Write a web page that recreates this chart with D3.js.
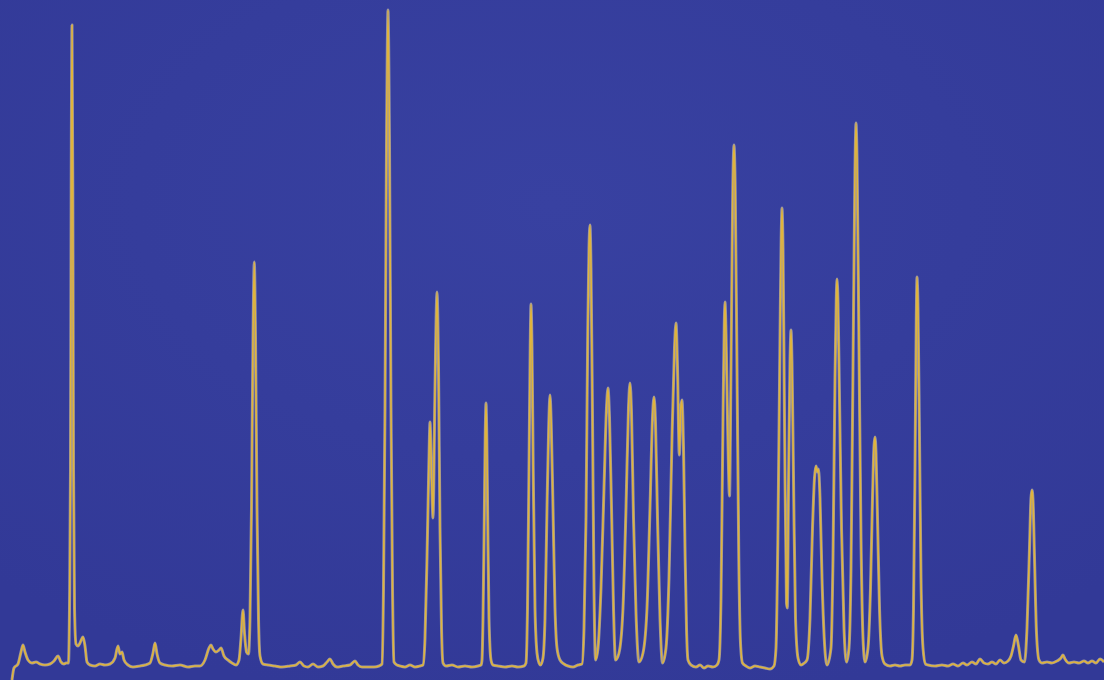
<!DOCTYPE html>
<html>
<head>
<meta charset="utf-8">
<script src="https://cdn.jsdelivr.net/npm/d3@7"></script>
<style>
  html, body { margin: 0; padding: 0; background: #343b9b; overflow: hidden; }
  svg { display: block; }
</style>
</head>
<body>
<svg id="chart" width="1104" height="680"></svg>
<script>
// Chromatogram trace: retention time (s) and detector response (mAU)
const time = [
  12, 14, 18, 21, 23, 25, 28, 32, 36, 40, 45, 50, 54, 58, 61, 64, 66,
  68.5, 69.5, 70.5, 71.2, 72, 72.8, 73.5, 74.5, 76, 78, 80, 83, 85, 87,
  90, 95, 100, 105, 110, 115, 118, 120, 122, 124, 128, 133, 140, 145, 150, 153, 155, 157, 160,
  165, 172, 180, 188, 195, 200, 205, 209, 211, 213, 216, 219, 221, 224, 228, 232, 236,
  239, 241, 243, 244.5, 246.5,
  248.5, 250, 251.5, 253, 254.3, 255.5, 257, 258.5, 260,
  263, 268, 275, 282, 290, 296, 300, 304, 308, 313, 318, 323, 327, 330, 333, 337, 343, 350, 355, 358, 362, 368, 374, 379,
  382, 383.5, 385, 386.5, 388, 389.5, 391, 392.5, 394,
  397, 400, 405, 410, 415, 420,
  423, 425, 427, 428.8, 430, 431.5, 433, 435, 437, 438.5, 440, 441.5, 443,
  446, 452, 458, 465, 472, 478, 481,
  482, 483, 484.3, 485.2, 486, 486.8, 487.7, 489, 491,
  493, 498, 505, 512, 518, 524,
  526, 527.5, 529, 530.2, 531, 532, 533.2, 535, 537, 539, 540.5,
  543, 545, 547, 548.8, 550, 551.2, 553, 555, 557, 560, 564, 568, 573, 578, 582,
  584, 586, 587.8, 589, 590, 591, 592.5, 594, 595.5,
  598, 601, 604, 606.5, 608, 609.5, 611.5, 613.5, 615.5,
  619, 623, 626, 628.5, 630, 631.5, 633.5, 636, 639,
  643, 647, 650, 652.5, 654, 655.5, 657.5, 660, 662.5,
  666, 669, 672, 674.5, 676, 677.5, 679.3, 680.8, 682, 683.5, 685, 686.5, 688,
  691, 696, 700, 704, 708, 713, 717,
  719, 721, 723, 724.3, 725, 726, 727.7, 729.5, 731, 732.8, 734, 735.2, 737, 738.8, 740.5, 742.5,
  746, 750, 755, 760, 765, 770, 774,
  776, 778, 780, 781.2, 782, 783, 784.5, 786.5, 787.3, 788.5, 790, 791, 792, 793.5, 795.5, 798, 801, 803,
  807, 810, 812.5, 814.5, 816, 817.3, 818.5, 820, 822, 824.5, 827,
  831, 833, 835, 836.3, 837, 838, 839.5, 841.5, 844, 846.5,
  849, 851, 853, 855, 856, 857, 859, 861, 863, 865,
  868, 870.5, 872.5, 874, 875, 876, 877.5, 879.5, 882, 885,
  890, 895, 900, 905, 910,
  912, 913.5, 915, 916.3, 917, 918, 919.5, 921, 923, 925.5,
  928, 935, 942, 948, 953, 958, 963, 967, 972, 976, 980, 984, 988, 992, 996, 1000, 1004, 1008, 1011,
  1013.5, 1016, 1018.5, 1021,
  1024.5, 1027, 1029.5, 1031, 1032, 1033, 1034.5, 1036.5, 1039,
  1042, 1047, 1052, 1057, 1061, 1063, 1065, 1069, 1074, 1079, 1084, 1088, 1092, 1096, 1100, 1104
];

const signal = [
  -12, 0, 4, 16, 23, 16, 8, 5, 6, 4, 3, 4, 7, 12, 6, 4, 5,
  5, 60, 200, 480, 643, 480, 200, 60, 24, 22, 25, 31, 22, 6,
  3, 2, 4, 3, 4, 10, 22, 14, 16, 8, 3, 1, 2, 3, 5, 15, 25, 14, 5,
  3, 2, 3, 1, 2, 2, 8, 20, 23, 19, 16, 18, 20, 12, 8, 5, 3,
  8, 30, 58, 35, 16,
  14, 50, 160, 330, 406, 330, 160, 50, 12,
  4, 3, 2, 1, 2, 3, 6, 2, 1, 4, 1, 2, 6, 9, 4, 1, 2, 3, 7, 3, 1, 1, 1, 2,
  4, 80, 260, 520, 658, 520, 260, 80, 6,
  3, 2, 1, 3, 1, 2,
  3, 30, 110, 200, 246, 195, 150, 280, 376, 300, 140, 40, 5,
  2, 3, 1, 2, 1, 2, 3,
  8, 50, 150, 230, 265, 230, 150, 50, 8,
  3, 2, 1, 2, 1, 2,
  5, 60, 200, 320, 364, 320, 200, 60, 15, 5, 3,
  10, 50, 160, 245, 273, 245, 160, 60, 20, 8, 4, 2, 1, 3, 4,
  40, 150, 340, 420, 443, 400, 250, 80, 8,
  20, 80, 180, 260, 280, 250, 160, 60, 8,
  15, 60, 160, 260, 285, 255, 150, 55, 6,
  15, 60, 160, 250, 271, 245, 150, 50, 5,
  20, 90, 230, 320, 345, 300, 213, 260, 268, 220, 120, 40, 8,
  3, 1, 3, 0, 2, 1, 3,
  8, 70, 250, 345, 366, 335, 240, 172, 300, 480, 523, 480, 300, 110, 25, 5,
  2, 0, 2, 1, 0, -1, 2,
  20, 140, 330, 430, 460, 420, 250, 65, 60, 180, 305, 338, 305, 190, 50, 10, 3, 4,
  8, 50, 140, 190, 202, 196, 199, 170, 90, 25, 3,
  20, 110, 290, 370, 389, 365, 270, 140, 40, 6,
  20, 100, 300, 500, 545, 510, 320, 130, 30, 6,
  20, 80, 170, 222, 231, 215, 150, 60, 12, 4,
  2, 3, 2, 3, 3,
  8, 60, 200, 350, 391, 360, 230, 90, 20, 4,
  3, 2, 3, 2, 4, 2, 5, 3, 6, 4, 9, 5, 4, 6, 4, 8, 5, 7, 12,
  22, 33, 22, 8,
  6, 40, 120, 170, 178, 168, 110, 35, 8,
  5, 6, 5, 7, 10, 13, 9, 5, 6, 5, 7, 5, 7, 5, 9, 6
];

const width = 1104, height = 680;
const svg = d3.select("#chart");

// Background panel with a faint lighter patch towards the upper middle
const defs = svg.append("defs");
const grad = defs.append("radialGradient")
  .attr("id", "panel")
  .attr("cx", "50%").attr("cy", "30%").attr("r", "75%");
grad.append("stop").attr("offset", "0%").attr("stop-color", "#3841a1");
grad.append("stop").attr("offset", "100%").attr("stop-color", "#323997");
svg.append("rect")
  .attr("width", width).attr("height", height)
  .attr("fill", "url(#panel)");

const x = d3.scaleLinear().domain([0, 1104]).range([0, width]);
const y = d3.scaleLinear().domain([-12, 668]).range([height, 0]);

const points = time.map((t, i) => [t, signal[i]]);

const line = d3.line()
  .x(d => x(d[0]))
  .y(d => y(d[1]))
  .curve(d3.curveMonotoneX);

// Soft pale halo under the trace
svg.append("path")
  .datum(points)
  .attr("fill", "none")
  .attr("stroke", "#b9b1a4")
  .attr("stroke-opacity", 0.75)
  .attr("stroke-width", 3)
  .attr("stroke-linejoin", "round")
  .attr("d", line);

// Gold trace
svg.append("path")
  .datum(points)
  .attr("fill", "none")
  .attr("stroke", "#e0b43c")
  .attr("stroke-width", 1.6)
  .attr("stroke-linejoin", "round")
  .attr("d", line);
</script>
</body>
</html>
